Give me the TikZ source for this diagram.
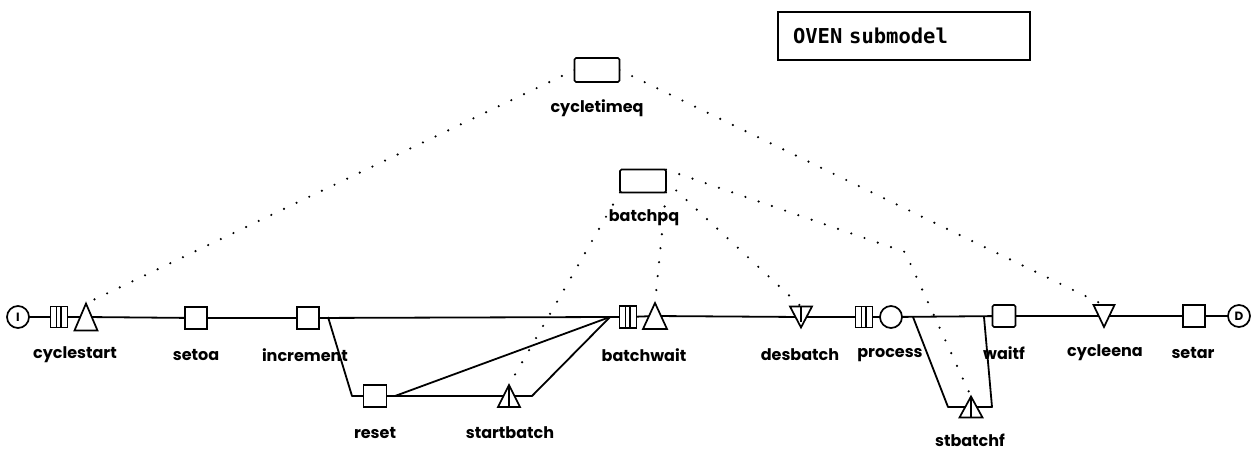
\documentclass[tikz,border=0pt]{standalone}
\usepackage{fontspec}
\setmainfont{Poppins}
\newfontfamily\panelfont{DejaVu Sans Mono}
\usetikzlibrary{backgrounds}

\begin{document}
\begin{tikzpicture}[x=1pt,y=-1pt,
  every node/.style={inner sep=0pt, outer sep=0pt},
  flow/.style={line width=1.8pt, line join=round},
  block/.style={draw, fill=white, line width=1.7pt, minimum width=22pt, minimum height=22pt},
  queue/.style={block, minimum width=17pt, minimum height=21pt, path picture={
      \draw[line width=1.3pt] ([xshift=-2.5pt]path picture bounding box.north) -- ([xshift=-2.5pt]path picture bounding box.south);
      \draw[line width=1.3pt] ([xshift=2pt]path picture bounding box.north) -- ([xshift=2pt]path picture bounding box.south);}},
  term/.style={draw, fill=white, circle, line width=1.7pt, minimum size=22pt, font=\bfseries\fontsize{12}{12}\selectfont},
  tri/.style={draw, fill=white, line width=1.7pt, line join=miter},
  lab/.style={font=\bfseries\fontsize{16}{16}\selectfont},
  dots/.style={line width=2.4pt, line cap=round, dash pattern=on 0pt off 14pt},
]
\useasboundingbox (0,0) rectangle (1255,452);

% --- main flow line blocks ---
\node[term] (src) at (18,317) {I};
\node[queue] (q1) at (59,317) {};
\node[minimum width=23pt, minimum height=27pt] (cs) at (86,317) {};
\node[block] (setoa) at (196,318) {};
\node[block] (incr) at (308,318) {};
\node[block, minimum width=23pt] (reset) at (375,396) {};
\node[minimum width=22pt, minimum height=22pt] (sb) at (509,396) {};
\node[queue, minimum height=22pt] (q2) at (628,317) {};
\node[minimum width=24pt, minimum height=26pt] (bw) at (655,316) {};
\node[minimum width=22pt, minimum height=21pt] (des) at (801,317) {};
\node[queue] (q3) at (864,317) {};
\node[term] (proc) at (891,317) {};
\node[minimum width=23pt, minimum height=21pt] (sbf) at (971,407) {};
\node[block, minimum width=23pt, rounded corners=1.5pt] (waitf) at (1004,316) {};
\node[minimum width=21pt, minimum height=22pt] (ce) at (1104,316) {};
\node[block] (setar) at (1194,316) {};
\node[term] (sink) at (1239,316) {D};

% --- resource queues ---
\node[block, minimum width=45pt, minimum height=24pt, rounded corners=1.5pt] (ctq) at (597,70) {};
\node[block, minimum width=46pt, minimum height=23pt, rounded corners=1.5pt] (bpq) at (643,181) {};

% --- title panel ---
\node[draw, line width=1.7pt, minimum width=252pt, minimum height=48pt,
      text width=222pt, align=left, font=\panelfont\bfseries\fontsize{20.5}{20.5}\selectfont] (title) at (904,36) {OVEN submodel};

% --- branch points ---
\coordinate (j1) at (328,317);
\coordinate (j2) at (352,396);
\coordinate (j9) at (395,396);
\coordinate (j3) at (532,396);
\coordinate (j4) at (610,317);
\coordinate (j5) at (913,317);
\coordinate (j6) at (948,407);
\coordinate (j7) at (992,407);
\coordinate (j8) at (984,317);
\coordinate (kink) at (905,252);

% --- triangles ---
\foreach \t in {cs,bw,sb,sbf}
  \draw[tri] (\t.south west) -- (\t.north) -- (\t.south east) -- cycle;
\foreach \t in {sb,sbf}
  \draw[line width=1.3pt] (\t.north) -- (\t.south);
\foreach \t in {des,ce}
  \draw[tri] (\t.north west) -- (\t.south) -- (\t.north east) -- cycle;
\draw[line width=1.3pt] (des.north) -- ([yshift=6pt]des.south);

% --- connectors ---
\begin{scope}[on background layer]
  \draw[flow] (src.center) -- (q1.center) -- (cs.center) -- (setoa.center) -- (incr.center)
    -- (j4) -- (q2.center) -- (bw.center) -- (des.center) -- (q3.center) -- (proc.center)
    -- (waitf.center) -- (ce.center) -- (setar.center) -- (sink.center);
  \draw[flow] (j1) -- (j2) -- (reset.center) -- (sb.center) -- (j3) -- (j4);
  \draw[flow] (j9) -- (j4);
  \draw[flow] (j5) -- (j6) -- (sbf.center) -- (j7) -- (j8);

  \draw[dots] (ctq.west) -- (cs.north);
  \draw[dots] (ctq.east) -- (ce.north);
  \draw[dots] (bpq.south west) -- (sb.north);
  \draw[dots] (bpq.south east) -- (bw.north);
  \draw[dots] (bpq.east) -- (des.north);
  \draw[dots] (bpq.north east) -- (kink) -- (sbf.north);
\end{scope}

% --- labels ---
\node[lab] (lcs) at (75,355) {cyclestart};
\node[lab] (lsetoa) at (196,355) {setoa};
\node[lab] (lincr) at (305,355) {increment};
\node[lab] (lreset) at (375,433) {reset};
\node[lab] (lsb) at (510,433) {startbatch};
\node[lab] (lbw) at (644,355) {batchwait};
\node[lab] (ldes) at (800,355) {desbatch};
\node[lab] (lproc) at (890,355) {process};
\node[lab] (lwaitf) at (1004,353) {waitf};
\node[lab] (lce) at (1105,353) {cycleena};
\node[lab] (lsetar) at (1193,353) {setar};
\node[lab] (lsbf) at (970,440) {stbatchf};
\node[lab] (lctq) at (597,108) {cycletimeq};
\node[lab] (lbpq) at (644,218) {batchpq};
\end{tikzpicture}
\end{document}
